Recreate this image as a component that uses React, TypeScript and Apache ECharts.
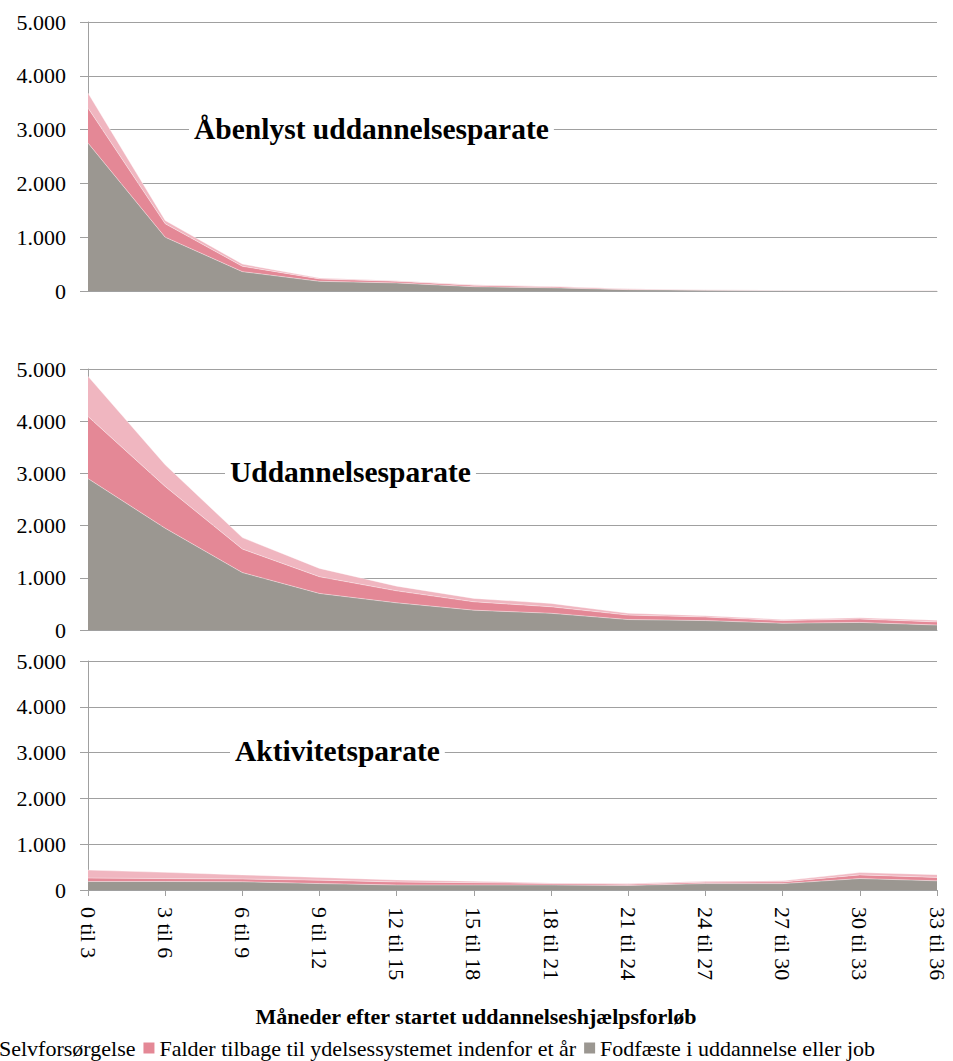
import React, { useEffect, useRef } from "react";
import * as echarts from "echarts";

const categories = ["0 til 3", "3 til 6", "6 til 9", "9 til 12", "12 til 15", "15 til 18", "18 til 21", "21 til 24", "24 til 27", "27 til 30", "30 til 33", "33 til 36"];

const seriesNames = ["Selvforsørgelse", "Falder tilbage til ydelsessystemet indenfor et år", "Fodfæste i uddannelse eller job"];

const panelTitles = ["Åbenlyst uddannelsesparate", "Uddannelsesparate", "Aktivitetsparate"];

// Panel 1: Åbenlyst uddannelsesparate
const fod1 = [2750, 1000, 360, 180, 150, 80, 60, 25, 15, 10, 5, 5];
const fald1 = [650, 250, 100, 45, 30, 25, 20, 10, 5, 3, 2, 2];
const selv1 = [280, 60, 40, 15, 10, 10, 10, 5, 5, 3, 2, 2];

// Panel 2: Uddannelsesparate
const fod2 = [2900, 1950, 1100, 700, 520, 380, 320, 200, 180, 130, 145, 95];
const fald2 = [1190, 800, 450, 320, 230, 160, 125, 85, 70, 50, 65, 60];
const selv2 = [770, 415, 220, 160, 90, 65, 65, 35, 25, 20, 25, 30];

// Panel 3: Aktivitetsparate
const fod3 = [185, 185, 180, 140, 110, 110, 110, 100, 140, 140, 250, 200];
const fald3 = [75, 65, 60, 75, 65, 50, 30, 25, 30, 35, 80, 75];
const selv3 = [175, 135, 90, 60, 45, 30, 15, 15, 20, 25, 50, 60];

const xAxisTitle = "Måneder efter startet uddannelseshjælpsforløb";

const COLORS = { selv: "#f0b6c0", fald: "#e48896", fod: "#9b9791" };
const FONT = "Liberation Serif";
const GRIDC = "#a0a0a0";

function fmt(v: number) {
  return String(v).replace(/\B(?=(\d{3})+(?!\d))/g, ".");
}

export default function App() {
  const ref = useRef<HTMLDivElement>(null);
  useEffect(() => {
    if (!ref.current) return;
    const chart = echarts.init(ref.current, null, { renderer: "svg" });
    const grids = [
      { left: 88, right: 16, top: 22, height: 269 },
      { left: 88, right: 16, top: 369, height: 261 },
      { left: 88, right: 16, top: 661, height: 229 },
    ];
    const panels = [
      [fod1, fald1, selv1],
      [fod2, fald2, selv2],
      [fod3, fald3, selv3],
    ];
    const xAxes = grids.map((_, i) => ({
      type: "category",
      gridIndex: i,
      data: categories,
      boundaryGap: false,
      axisLine: { show: true, lineStyle: { color: GRIDC, width: 1 } },
      axisTick: { show: i === 2, length: 6, lineStyle: { color: GRIDC } },
      axisLabel: {
        show: i === 2,
        rotate: -90,
        margin: 17,
        fontSize: 22,
        fontFamily: FONT,
        color: "#000",
      },
      splitLine: { show: false },
    }));
    const yAxes = grids.map((_, i) => ({
      type: "value",
      gridIndex: i,
      min: 0,
      max: 5000,
      interval: 1000,
      axisLine: { show: true, lineStyle: { color: GRIDC, width: 1 } },
      axisTick: { show: true, length: 8, lineStyle: { color: GRIDC } },
      axisLabel: {
        formatter: (v: number) => fmt(v),
        margin: 22,
        fontSize: 22,
        fontFamily: FONT,
        color: "#000",
      },
      splitLine: { show: true, lineStyle: { color: GRIDC, width: 1 } },
    }));
    const colorOrder = [COLORS.fod, COLORS.fald, COLORS.selv];
    const nameOrder = [seriesNames[2], seriesNames[1], seriesNames[0]];
    const series: any[] = [];
    panels.forEach((vals, pi) => {
      vals.forEach((d, si) => {
        series.push({
          type: "line",
          name: nameOrder[si],
          xAxisIndex: pi,
          yAxisIndex: pi,
          stack: "p" + pi,
          data: d,
          showSymbol: false,
          symbol: "none",
          lineStyle: { width: 0.8, color: "rgba(255,255,255,0.5)" },
          itemStyle: { color: colorOrder[si] },
          areaStyle: { color: colorOrder[si], opacity: 1 },
          emphasis: { disabled: true },
        });
      });
    });
    const titleY = [129, 472, 751];
    const titleX = [189, 225, 230];
    const graphic: any[] = panelTitles.map((t, i) => ({
      type: "text",
      x: titleX[i],
      y: titleY[i],
      z: 100,
      style: {
        text: t,
        fontSize: 29.5,
        fontWeight: "bold",
        fontFamily: FONT,
        fill: "#000",
        backgroundColor: "#fff",
        padding: [0, 5],
        align: "left",
        verticalAlign: "middle",
      },
    }));
    graphic.push({
      type: "text",
      x: 476,
      y: 1016,
      style: {
        text: xAxisTitle,
        fontSize: 22,
        fontWeight: "bold",
        fontFamily: FONT,
        fill: "#000",
        align: "center",
        verticalAlign: "middle",
      },
    });
    chart.setOption({
      animation: false,
      backgroundColor: "#fff",
      textStyle: { fontFamily: FONT },
      grid: grids,
      xAxis: xAxes,
      yAxis: yAxes,
      series,
      graphic,
      legend: {
        data: seriesNames.map((n) => ({ name: n, icon: "rect" })),
        left: -22,
        top: 1032,
        itemWidth: 11,
        itemHeight: 11,
        itemGap: 8,
        textStyle: { fontSize: 22, fontFamily: FONT, color: "#000" },
        selectedMode: false,
      },
    });
    return () => chart.dispose();
  }, []);
  return (
    <div
      ref={ref}
      style={{ position: "absolute", left: 0, top: 0, width: 953, height: 1061, background: "#fff" }}
    />
  );
}
